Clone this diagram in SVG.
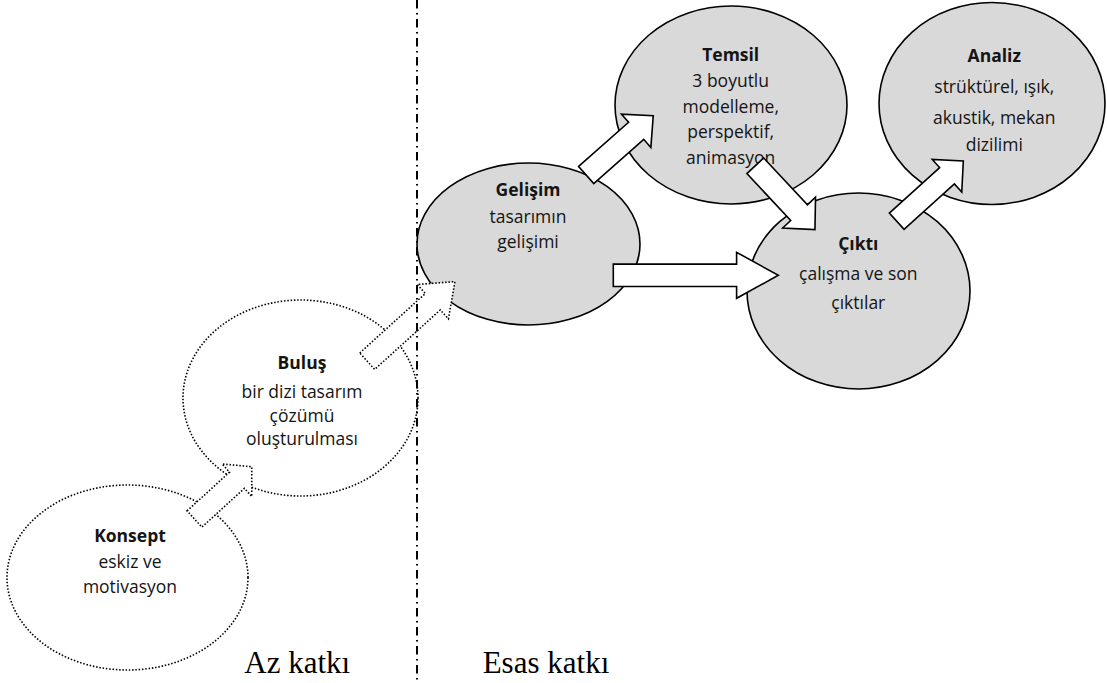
<svg xmlns="http://www.w3.org/2000/svg" width="1107" height="683" viewBox="0 0 1107 683">
  <style>
    .bubble { fill: #d9d9d9; stroke: #000; stroke-width: 1.6; }
    .bubble-light { fill: #fff; stroke: #000; stroke-width: 1.6; stroke-dasharray: 1.5 1.8; }
    .arrow { fill: #fff; stroke: #000; stroke-width: 1.6; stroke-linejoin: miter; }
    .arrow-light { fill: #fff; stroke: #000; stroke-width: 1.6; stroke-dasharray: 1.5 1.8; }
    .lbl { font-family: "Open Sans", "Noto Sans", sans-serif; font-size: 17.5px; fill: #141414; text-anchor: middle; }
    .ttl { font-weight: 700; }
    .zone { font-family: "Liberation Serif", "Times New Roman", serif; font-size: 31px; fill: #000; }
    .divider { stroke: #000; stroke-width: 2; stroke-dasharray: 8.5 4.5 1.5 4.5; fill: none; }
  </style>

  <!-- phases -->
  <g id="konsept">
    <ellipse class="bubble-light" cx="127.5" cy="577.5" rx="120.5" ry="92.5"/>
    <text class="lbl ttl" x="130" y="541.7">Konsept</text>
    <text class="lbl" x="130" y="568.3">eskiz ve</text>
    <text class="lbl" x="130" y="593.3">motivasyon</text>
  </g>

  <g id="bulus">
    <ellipse class="bubble-light" cx="300.5" cy="398" rx="117.5" ry="98"/>
    <text class="lbl ttl" x="302" y="369.3">Buluş</text>
    <text class="lbl" x="302" y="398.3">bir dizi tasarım</text>
    <text class="lbl" x="302" y="421.7">çözümü</text>
    <text class="lbl" x="302" y="445">oluşturulması</text>
  </g>

  <g id="gelisim">
    <ellipse class="bubble" cx="528.5" cy="244" rx="111.5" ry="81"/>
    <text class="lbl ttl" x="528" y="196">Gelişim</text>
    <text class="lbl" x="528" y="222.7">tasarımın</text>
    <text class="lbl" x="528" y="248">gelişimi</text>
  </g>

  <g id="temsil">
    <ellipse class="bubble" cx="731" cy="105" rx="116" ry="99"/>
    <text class="lbl ttl" x="730.7" y="61">Temsil</text>
    <text class="lbl" x="730.7" y="87.3">3 boyutlu</text>
    <text class="lbl" x="730.7" y="113.3">modelleme,</text>
    <text class="lbl" x="730.7" y="138.3">perspektif,</text>
    <text class="lbl" x="730.7" y="164.3">animasyon</text>
  </g>

  <g id="analiz">
    <ellipse class="bubble" cx="992" cy="103.5" rx="113" ry="101"/>
    <text class="lbl ttl" x="994.3" y="61.7">Analiz</text>
    <text class="lbl" x="994.3" y="92.7">strüktürel, ışık,</text>
    <text class="lbl" x="994.3" y="124">akustik, mekan</text>
    <text class="lbl" x="994.3" y="150.7">dizilimi</text>
  </g>

  <g id="cikti">
    <ellipse class="bubble" cx="858.5" cy="291" rx="111.5" ry="98"/>
    <text class="lbl ttl" x="858.3" y="250">Çıktı</text>
    <text class="lbl" x="858.3" y="280">çalışma ve son</text>
    <text class="lbl" x="858.3" y="309">çıktılar</text>
  </g>

  <!-- block arrows, each drawn pointing right from its tail, then placed -->
  <g id="connectors">
    <path class="arrow-light" transform="translate(194.5 519) rotate(-42.4)" d="M0,-11 L57.5,-11 L57.5,-22 L77.5,0 L57.5,22 L57.5,11 L0,11 Z"/>
    <path class="arrow-light" transform="translate(367.2 361.2) rotate(-42.2)" d="M0,-11.1 L88.6,-11.1 L88.6,-23.2 L118.4,0 L88.6,23.2 L88.6,11.1 L0,11.1 Z"/>
    <path class="arrow" transform="translate(586.2 175) rotate(-41.5)" d="M0,-11.4 L66.7,-11.4 L66.7,-22.2 L89.5,0 L66.7,22.2 L66.7,11.4 L0,11.4 Z"/>
    <path class="arrow" transform="translate(755.3 165.8) rotate(46.9)" d="M0,-11.5 L64.1,-11.5 L64.1,-22.5 L87.3,0 L64.1,22.5 L64.1,11.5 L0,11.5 Z"/>
    <path class="arrow" transform="translate(613.3 275.3)" d="M0,-11.2 L123.3,-11.2 L123.3,-23 L165,0 L123.3,23 L123.3,11.2 L0,11.2 Z"/>
    <path class="arrow" transform="translate(896.7 221.2) rotate(-42.1)" d="M0,-11 L67.8,-11 L67.8,-22 L89.8,0 L67.8,22 L67.8,11 L0,11 Z"/>
  </g>

  <!-- boundary between the two contribution zones -->
  <line class="divider" x1="417" y1="0" x2="417" y2="683"/>
  <text class="zone" x="244.3" y="672.5">Az katkı</text>
  <text class="zone" x="482.7" y="672.5">Esas katkı</text>
</svg>
